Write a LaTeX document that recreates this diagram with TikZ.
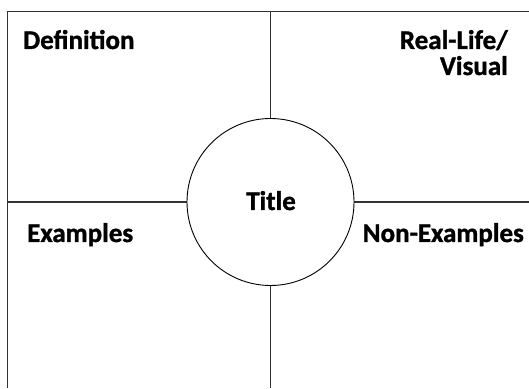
\documentclass[tikz,border=0pt]{standalone}
\usepackage{fontspec}
\setmainfont{Carlito}[BoldFeatures={FakeBold=1.2}]

\begin{document}
\begin{tikzpicture}[x=1pt, y=1pt, font=\bfseries\fontsize{27}{26}\selectfont]
  \tikzset{
    frame/.style={draw=black!80, line width=1.4pt},
    label/.style={inner sep=0pt, text=black}
  }
  \useasboundingbox[fill=white] (0,0) rectangle (529,388);

  % corners of the sheet and its centre
  \coordinate (TL) at (7.5,376.5);
  \coordinate (TR) at (529,376.5);
  \coordinate (BL) at (7.5,0);
  \coordinate (C) at (270.5,186);

  \draw[frame] (BL) -- (TL) -- (TR);
  \draw[frame] (C |- TL) -- (C |- BL);
  \draw[frame] (TL |- C) -- (TR |- C);

  \node[draw=black, line width=0.9pt, fill=white, circle, minimum size=167pt, inner sep=0pt] (title) at (C) {};
  \node[label, anchor=base] at (271,178) {Title};

  \node[label, anchor=base west] (def) at (23,339) {Definition};
  \node[label, anchor=base east, align=right] (real) at (508,313) {Real-Life/\\Visual};
  \node[label, anchor=base west] (ex) at (27,146) {Examples};
  \node[label, anchor=base east] (nonex) at (524,146) {Non-Examples};
\end{tikzpicture}
\end{document}
